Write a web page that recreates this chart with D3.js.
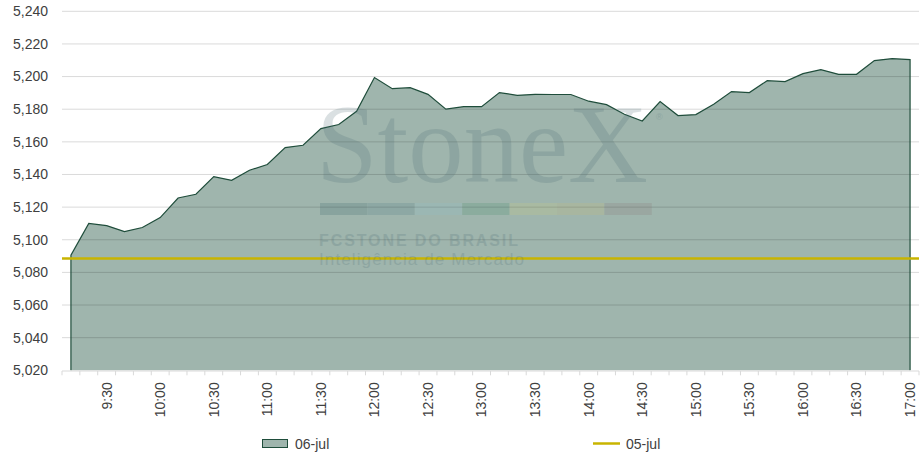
<!DOCTYPE html>
<html>
<head>
<meta charset="utf-8">
<script src="https://cdn.jsdelivr.net/npm/d3@7"></script>
<style>
  html, body { margin: 0; padding: 0; background: #fff; }
  svg { display: block; font-family: "Liberation Sans", Arial, sans-serif; }
</style>
</head>
<body>
<div id="chart"></div>
<script>
// categories: 10-minute slots, 9:10 .. 17:00
const times = [
  '9:10', '9:20', '9:30', '9:40', '9:50', '10:00', '10:10', '10:20', '10:30', '10:40', '10:50',
  '11:00', '11:10', '11:20', '11:30', '11:40', '11:50', '12:00', '12:10', '12:20', '12:30',
  '12:40', '12:50', '13:00', '13:10', '13:20', '13:30', '13:40', '13:50', '14:00', '14:10',
  '14:20', '14:30', '14:40', '14:50', '15:00', '15:10', '15:20', '15:30', '15:40', '15:50',
  '16:00', '16:10', '16:20', '16:30', '16:40', '16:50', '17:00'
];
// 06-jul series
const jul06 = [
  5090.5, 5110, 5108.7, 5105, 5107.5, 5113.6, 5125.6, 5127.9, 5138.7, 5136.4, 5142.6,
  5146.1, 5156.5, 5157.9, 5168.1, 5170.6, 5178.7, 5199.4, 5192.6, 5193.2, 5189.1,
  5180, 5181.6, 5181.6, 5190.2, 5188.5, 5189.1, 5189, 5189, 5184.9, 5182.8,
  5176.9, 5172.8, 5184.7, 5176.1, 5176.7, 5183, 5190.8, 5190.2, 5197.5, 5196.9,
  5201.8, 5204.3, 5201.4, 5201.4, 5209.8, 5211, 5210.4
];
// 05-jul close (flat reference)
const jul05 = 5088.5;
const yTicks = [5020, 5040, 5060, 5080, 5100, 5120, 5140, 5160, 5180, 5200, 5220, 5240];
const xLabels = ['9:30', '10:00', '10:30', '11:00', '11:30', '12:00', '12:30', '13:00',
  '13:30', '14:00', '14:30', '15:00', '15:30', '16:00', '16:30', '17:00'];
const legendNames = ['06-jul', '05-jul'];
const brandColors = ['#2f5f66', '#4b7784', '#8fc0cc', '#3f8a68', '#d2d07a', '#cfbb6e', '#8a7474'];

const W = 920, H = 460;
const plotL = 62, plotR = 919, plotT = 11.3, plotB = 370.3;
const AREA = '#9fb5ad', EDGE = '#1f4d3b', GOLD = '#c8b400', TXT = '#404040';

const svg = d3.select('#chart').append('svg').attr('width', W).attr('height', H);

const x = d3.scaleBand().domain(times).range([plotL, plotR]);
const cx = d => x(d) + x.bandwidth() / 2;
const y = d3.scaleLinear().domain([5020, 5240]).range([plotB, plotT]);

// area
const area = d3.area().x((d, i) => cx(times[i])).y0(y(5020)).y1(d => y(d));
svg.append('path').datum(jul06).attr('d', area).attr('fill', AREA);

// gridlines (translucent, on top of the area)
svg.append('g').selectAll('line').data(yTicks.slice(1)).join('line')
  .attr('x1', plotL).attr('x2', plotR)
  .attr('y1', d => y(d)).attr('y2', d => y(d))
  .attr('stroke', '#000').attr('stroke-opacity', 0.15).attr('stroke-width', 1);

// outline: left edge, top line, right edge
const n = jul06.length;
const outline = [[cx(times[0]), y(5020)]]
  .concat(jul06.map((d, i) => [cx(times[i]), y(d)]))
  .concat([[cx(times[n - 1]), y(5020)]]);
svg.append('path').attr('d', d3.line()(outline))
  .attr('fill', 'none').attr('stroke', EDGE).attr('stroke-width', 1.2);

// 05-jul line
svg.append('line')
  .attr('x1', plotL).attr('x2', plotR)
  .attr('y1', y(jul05)).attr('y2', y(jul05))
  .attr('stroke', GOLD).attr('stroke-width', 2.5);

// watermark
const wm = svg.append('g').attr('opacity', 0.2);
wm.append('text').attr('x', 316).attr('y', 182)
  .attr('font-family', '"Liberation Serif", "DejaVu Serif", serif')
  .attr('font-size', 112).attr('fill', '#4a6a72')
  .attr('textLength', 332).attr('lengthAdjust', 'spacingAndGlyphs')
  .text('StoneX');
wm.append('text').attr('x', 656).attr('y', 120)
  .attr('font-size', 9).attr('fill', '#4a6a72').text('®');
wm.selectAll('rect').data(brandColors).join('rect')
  .attr('x', (d, i) => 320 + i * 47.4).attr('y', 203)
  .attr('width', 47.4).attr('height', 12).attr('fill', d => d);
wm.append('text').attr('x', 319).attr('y', 246)
  .attr('font-size', 16).attr('font-weight', 'bold').attr('fill', '#4a6a72')
  .attr('textLength', 199).attr('lengthAdjust', 'spacing')
  .text('FCSTONE DO BRASIL');
wm.append('text').attr('x', 319).attr('y', 265)
  .attr('font-size', 17).attr('fill', '#4a6a72')
  .attr('textLength', 205).attr('lengthAdjust', 'spacing')
  .text('Inteligência de Mercado');

// y axis labels
svg.append('g').selectAll('text').data(yTicks).join('text')
  .attr('x', 48).attr('y', d => y(d)).attr('dy', '0.35em')
  .attr('text-anchor', 'end').attr('font-size', 14).attr('fill', TXT)
  .text(d => d3.format(',')(d));

// x axis
svg.append('line').attr('x1', plotL).attr('x2', plotR)
  .attr('y1', plotB + 0.7).attr('y2', plotB + 0.7)
  .attr('stroke', '#d9d9d9').attr('stroke-width', 1);
svg.append('g').selectAll('line').data(times.concat(['end'])).join('line')
  .attr('x1', (d, i) => plotL + i * x.bandwidth()).attr('x2', (d, i) => plotL + i * x.bandwidth())
  .attr('y1', plotB + 0.7).attr('y2', plotB + 5)
  .attr('stroke', '#d9d9d9');
svg.append('g').selectAll('text').data(xLabels).join('text')
  .attr('transform', d => `translate(${cx(d)},${plotB + 12}) rotate(-90)`)
  .attr('dy', '0.35em').attr('text-anchor', 'end')
  .attr('font-size', 14).attr('fill', TXT)
  .text(d => d);

// legend
const lg = svg.append('g');
lg.append('rect').attr('x', 262.5).attr('y', 439.5).attr('width', 25).attr('height', 8)
  .attr('fill', AREA).attr('stroke', EDGE).attr('stroke-width', 1);
lg.append('text').attr('x', 295).attr('y', 448.5).attr('font-size', 14).attr('fill', TXT)
  .text(legendNames[0]);
lg.append('line').attr('x1', 593).attr('x2', 620).attr('y1', 443.5).attr('y2', 443.5)
  .attr('stroke', GOLD).attr('stroke-width', 2.5);
lg.append('text').attr('x', 626).attr('y', 448.5).attr('font-size', 14).attr('fill', TXT)
  .text(legendNames[1]);
</script>
</body>
</html>
